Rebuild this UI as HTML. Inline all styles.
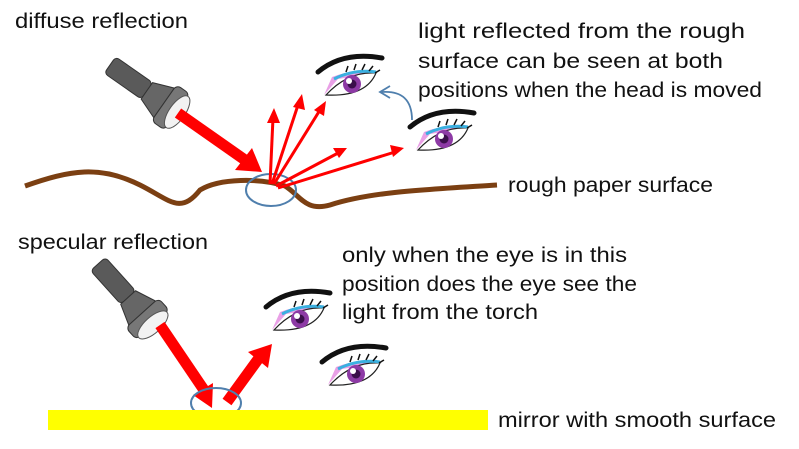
<!DOCTYPE html>
<html><head><meta charset="utf-8"><style>
html,body{margin:0;padding:0;background:#fff;}
svg{display:block;}
text{font-family:"Liberation Sans",sans-serif;font-size:21px;fill:#111;}
</style></head><body>
<svg width="799" height="449" viewBox="0 0 799 449">
<defs>
<g id="eye">
  <path d="M0,17 Q25,-4 64,3" stroke="#111" stroke-width="5" fill="none" stroke-linecap="round"/>
  <path d="M6,40 L14,22 Q34,14 58,18 L20,24 Z" fill="#e9a0e6"/>
  <path d="M8,40 Q30,16 58,18 Q48,42 8,40 Z" fill="#fff" stroke="#222" stroke-width="1.2"/>
  <path d="M16,24 Q36,14 58,17" stroke="#3ab0e0" stroke-width="3" fill="none"/>
  <path d="M28,17 l2,-6 M36,15 l2,-6 M44,15 l3,-6 M51,16 l4,-5 M57,18 l5,-3" stroke="#111" stroke-width="1.5"/>
  <circle cx="34" cy="29" r="9" fill="#8d3aa5"/>
  <circle cx="34" cy="29" r="4.5" fill="#3a0f4a"/>
  <circle cx="31" cy="26" r="3" fill="#fff"/>
</g>
<g id="torch">
  <rect x="0" y="-10" width="45" height="20" rx="4" fill="#5a5a5a" stroke="#333"/>
  <path d="M45,-10 L66,-18 L66,18 L45,10 Z" fill="#666" stroke="#333"/>
  <rect x="66" y="-22" width="16" height="44" rx="5" fill="#777" stroke="#333"/>
  <ellipse cx="82" cy="0" rx="8" ry="19" fill="#f2f2f2" stroke="#555"/>
</g>
</defs>

<text x="15" y="28" textLength="173" lengthAdjust="spacingAndGlyphs">diffuse reflection</text>
<use href="#torch" transform="translate(110,65) rotate(35)"/>
<path d="M178,113 L245,160" stroke="#f00" stroke-width="11"/>
<path d="M235,170 L262,172 L252,148 Z" fill="#f00"/>
<path d="M25,186 C70,170 100,165 140,185 C170,200 180,215 200,190 C220,178 260,178 285,186 C300,195 305,212 330,205 C370,192 420,190 497,185" stroke="#7b3f12" stroke-width="5" fill="none"/>
<ellipse cx="271" cy="190" rx="25" ry="16" fill="none" stroke="#4f7fad" stroke-width="2"/>
<g stroke="#f00" stroke-width="3">
<line x1="270" y1="184" x2="273" y2="118"/>
<line x1="272" y1="184" x2="299" y2="102"/>
<line x1="274" y1="184" x2="320" y2="110"/>
<line x1="276" y1="186" x2="340" y2="152"/>
<line x1="278" y1="188" x2="395" y2="152"/>
</g>
<g fill="#f00">
<path d="M274,108 L267,123 L280,123 Z"/>
<path d="M302,94 L293,107 L305,110 Z"/>
<path d="M326,101 L314,110 L324,116 Z"/>
<path d="M347,148 L333,148 L339,158 Z"/>
<path d="M404,148 L390,145 L393,157 Z"/>
</g>
<use href="#eye" x="318" y="55"/>
<use href="#eye" x="410" y="110"/>
<path d="M412,120 Q412,90 382,92" stroke="#4f7fad" stroke-width="1.8" fill="none"/>
<path d="M390,86 L380,92 L390,98" stroke="#4f7fad" stroke-width="1.8" fill="none"/>
<text x="418" y="38" textLength="327" lengthAdjust="spacingAndGlyphs">light reflected from the rough</text>
<text x="418" y="68" textLength="305" lengthAdjust="spacingAndGlyphs">surface can be seen at both</text>
<text x="418" y="97" textLength="344" lengthAdjust="spacingAndGlyphs">positions when the head is moved</text>
<text x="508" y="192" textLength="205" lengthAdjust="spacingAndGlyphs">rough paper surface</text>

<text x="18" y="249" textLength="190" lengthAdjust="spacingAndGlyphs">specular reflection</text>
<use href="#torch" transform="translate(98,264) rotate(48)"/>
<path d="M160,325 L204,390" stroke="#f00" stroke-width="11"/>
<path d="M193,395 L212,408 L213,383 Z" fill="#f00"/>
<path d="M227,402 L259,358" stroke="#f00" stroke-width="11"/>
<path d="M248,352 L272,344 L268,368 Z" fill="#f00"/>
<ellipse cx="216" cy="403" rx="25" ry="15" fill="none" stroke="#4f7fad" stroke-width="2"/>
<rect x="48" y="410" width="440" height="20" fill="#ffff00"/>
<use href="#eye" x="266" y="290"/>
<use href="#eye" x="322" y="345"/>
<text x="342" y="262" textLength="285" lengthAdjust="spacingAndGlyphs">only when the eye is in this</text>
<text x="342" y="291" textLength="295" lengthAdjust="spacingAndGlyphs">position does the eye see the</text>
<text x="342" y="319" textLength="196" lengthAdjust="spacingAndGlyphs">light from the torch</text>
<text x="498" y="427" textLength="278" lengthAdjust="spacingAndGlyphs">mirror with smooth surface</text>
</svg>
</body></html>
